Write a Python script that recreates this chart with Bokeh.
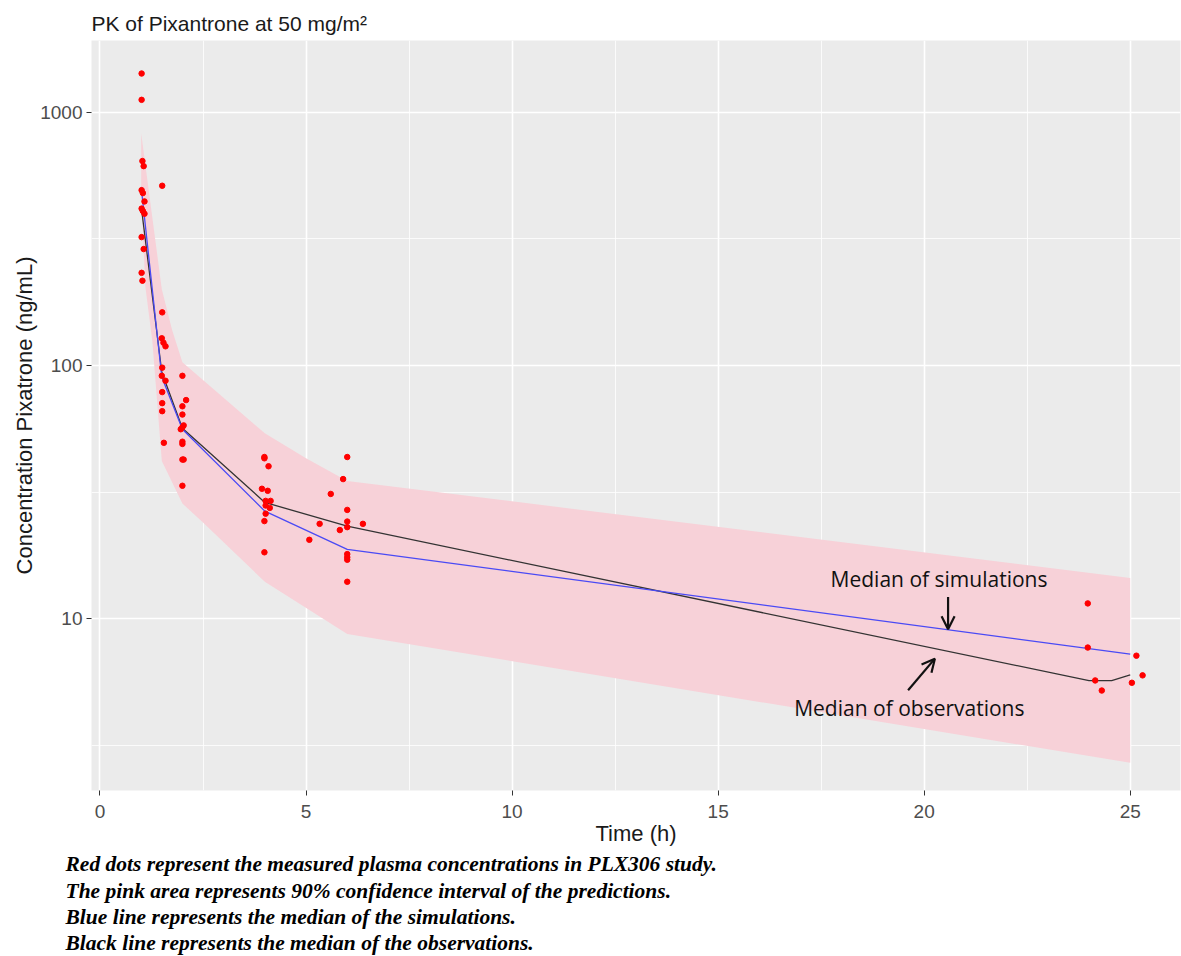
from bokeh.plotting import figure
from bokeh.models import Range1d, FixedTicker, Title, Label, Arrow, OpenHead, PrintfTickFormatter
from bokeh.embed import file_html
from bokeh.resources import INLINE

# ---- data ----
obs_time = [1.01, 1.01, 1.03, 1.06, 1.01, 1.04, 1.08, 1.01, 1.04, 1.08, 1.01, 1.06, 1.01, 1.03,
            1.51, 1.51, 1.50, 1.54, 1.59, 1.51, 1.50, 1.59, 1.51, 1.51, 1.51, 1.55,
            2.00, 2.09, 2.00, 2.00, 2.03, 2.00, 1.96, 2.00, 2.00, 2.03, 2.00, 2.00,
            3.99, 3.99, 4.09, 3.93, 4.07, 4.02, 4.14, 4.02, 4.12, 4.02, 3.99, 3.99,
            5.60, 5.90, 6.00, 6.00, 5.33, 6.00, 6.00, 5.82, 6.38, 5.08, 6.00, 6.00, 6.00, 6.00,
            23.97, 23.97, 24.15, 24.31, 25.04, 25.15, 25.30]
obs_conc = [1420, 1118, 641, 612, 492, 479, 444, 416, 407, 397, 321, 288, 232, 216,
            512, 162, 128, 123, 119, 98, 91, 87, 78.5, 71, 66, 49.5,
            91, 73, 69, 64, 58, 57, 56, 50, 49, 42.5, 42.5, 33.5,
            43.5, 43, 40, 32.6, 32, 29.2, 29.2, 28, 27.4, 26, 24.3, 18.3,
            31.1, 35.6, 43.5, 26.9, 23.7, 24.2, 23.0, 22.4, 23.7, 20.5, 18.0, 17.5, 17.1, 14.0,
            11.5, 7.7, 5.71, 5.21, 5.59, 7.15, 5.98]

sim_med_time = [1.0, 1.5, 2.0, 4.0, 6.0, 25.0]
sim_med_conc = [505, 90, 56, 26.6, 18.8, 7.25]

obs_med_time = [1.0, 1.5, 2.0, 4.0, 6.0, 24.0, 24.55, 25.0]
obs_med_conc = [425, 94, 56.5, 28.8, 23.2, 5.7, 5.7, 6.0]

pi_hi_time = [1.0, 1.5, 1.75, 2.0, 4.0, 5.0, 6.0, 25.0]
pi_hi_conc = [825, 200, 138, 103, 54, 43, 35, 14.5]
pi_lo_time = [1.0, 1.1, 1.27, 1.5, 2.0, 2.5, 4.0, 6.0, 25.0]
pi_lo_conc = [480, 205, 125, 42, 28.5, 24, 14, 8.7, 2.7]

x_ticks = [0, 5, 10, 15, 20, 25]
x_minor = [2.5, 7.5, 12.5, 17.5, 22.5]
y_ticks = [10, 100, 1000]
y_minor = [10 ** 0.5, 10 ** 1.5, 10 ** 2.5]

captions = [
    "Red dots represent the measured plasma concentrations in PLX306 study.",
    "The pink area represents 90% confidence interval of the predictions.",
    "Blue line represents the median of the simulations.",
    "Black line represents the median of the observations.",
]

# ---- figure ----
p = figure(width=1181, height=956,
           x_range=Range1d(-0.206, 26.22), y_range=Range1d(2.10, 1917),
           y_axis_type="log", output_backend="svg", toolbar_location=None,
           min_border_left=91, min_border_right=1, min_border_top=40, min_border_bottom=166)
p.background_fill_color = "#EBEBEB"
p.border_fill_color = "white"
p.outline_line_color = None

p.title.text = "PK of Pixantrone at 50 mg/m\u00b2"
p.title.text_font = "Liberation Sans"
p.title.text_font_size = "21px"
p.title.text_font_style = "normal"
p.title.text_color = "#1A1A1A"
p.title.standoff = 12

xt = FixedTicker(ticks=x_ticks, minor_ticks=x_minor)
yt = FixedTicker(ticks=y_ticks, minor_ticks=y_minor)
p.xaxis.ticker = xt
p.yaxis.ticker = yt
p.xgrid.ticker = xt
p.ygrid.ticker = yt
p.yaxis.formatter = PrintfTickFormatter(format="%d")

for g in (p.xgrid, p.ygrid):
    g.grid_line_color = "white"
    g.grid_line_width = 1.6
    g.minor_grid_line_color = "white"
    g.minor_grid_line_width = 0.8

for ax in (p.xaxis, p.yaxis):
    ax.axis_line_color = None
    ax.major_tick_line_color = "#333333"
    ax.major_tick_out = 5
    ax.major_tick_in = 0
    ax.minor_tick_line_color = None
    ax.major_label_text_font = "Liberation Sans"
    ax.major_label_text_font_size = "19px"
    ax.major_label_text_color = "#4D4D4D"
    ax.axis_label_text_font = "Liberation Sans"
    ax.axis_label_text_font_size = "22px"
    ax.axis_label_text_font_style = "normal"
    ax.axis_label_text_color = "#1A1A1A"

p.xaxis.major_label_standoff = 9
p.yaxis.major_label_standoff = 4
p.xaxis.axis_label = "Time (h)"
p.yaxis.axis_label = "Concentration Pixatrone (ng/mL)"
p.xaxis.axis_label_standoff = 0
p.yaxis.axis_label_standoff = 0

# band
band_x = pi_hi_time + pi_lo_time[::-1]
band_y = pi_hi_conc + pi_lo_conc[::-1]
p.patch(band_x, band_y, fill_color="#F7D1D8", line_color=None)

p.line(obs_med_time, obs_med_conc, line_color="#333333", line_width=1.3)
p.line(sim_med_time, sim_med_conc, line_color="#4A4AF5", line_width=1.3)

p.scatter(obs_time, obs_conc, size=5.5, marker="circle", fill_color="red", line_color="red")

# annotations
ann_font = "Open Sans"
p.add_layout(Label(x=20.36, y=14.4, text="Median of simulations", text_font=ann_font,
                   text_font_size="21px", text_align="center", text_baseline="middle",
                   text_color="#111111"))
p.add_layout(Label(x=19.64, y=4.43, text="Median of observations", text_font=ann_font,
                   text_font_size="21px", text_align="center", text_baseline="middle",
                   text_color="#111111"))
p.add_layout(Arrow(end=OpenHead(size=13, line_width=2.2, line_color="#111111"),
                   x_start=20.58, y_start=12.2, x_end=20.58, y_end=9.1,
                   line_width=2.2, line_color="#111111"))
p.add_layout(Arrow(end=OpenHead(size=13, line_width=2.2, line_color="#111111"),
                   x_start=19.61, y_start=5.22, x_end=20.26, y_end=6.96,
                   line_width=2.2, line_color="#111111"))

for i, c in enumerate(captions):
    t = Title(text=c, align="left", offset=-26, text_font="Liberation Serif",
              text_font_size="21.5px", text_font_style="bold italic", text_color="black",
              standoff=2 if i == 0 else 0)
    p.add_layout(t, "below")

open("out.html", "w").write(file_html(p, INLINE))
